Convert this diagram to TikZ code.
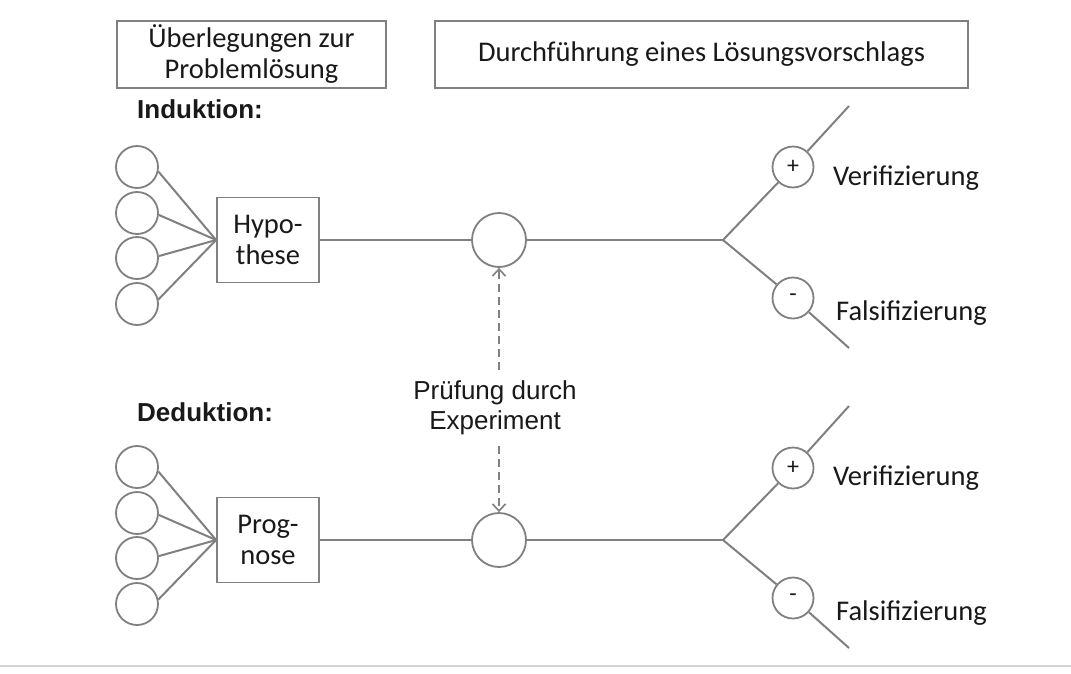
\documentclass[tikz,border=0pt]{standalone}
\usepackage{fontspec}
\setmainfont{Carlito}
\newfontfamily\arialf{Liberation Sans}
\usetikzlibrary{arrows.meta}
\definecolor{lgray}{RGB}{128,128,128}
\definecolor{rulegray}{RGB}{212,212,212}
\definecolor{txt}{RGB}{25,25,25}
\begin{document}
\begin{tikzpicture}[x=1pt,y=-1pt,
  box/.style={draw=lgray, line width=1.8pt, inner sep=0pt, align=center,
    font=\fontsize{28.5}{31}\selectfont, text=txt},
  circ/.style={circle, draw=lgray, line width=1.8pt, minimum size=42pt, inner sep=0pt},
  mcirc/.style={circle, draw=lgray, line width=1.8pt, minimum size=54pt, inner sep=0pt},
  scirc/.style={circle, draw=lgray, line width=1.8pt, minimum size=41pt, inner sep=0pt,
    font=\fontsize{24}{24}\selectfont, text=txt},
  mainline/.style={draw=lgray, line width=2.8pt},
  thinline/.style={draw=lgray, line width=2pt},
  head/.style={font=\arialf\bfseries\fontsize{26}{30}\selectfont, anchor=base west, inner sep=0pt, text=txt},
  res/.style={font=\fontsize{28.5}{30}\selectfont, anchor=base west, inner sep=0pt, text=txt},
  dasharr/.style={draw=lgray, line width=2pt, dash pattern=on 8pt off 5pt,
    -{Straight Barb[length=7pt,width=13pt,line width=1.6pt]}}
]
\useasboundingbox[fill=white] (0,0) rectangle (1071,673);

% header boxes
\node[box, minimum width=269pt, minimum height=67pt] (b1) at (251.5,54.5) {Überlegungen zur\\Problemlösung};
\node[box, minimum width=533pt, minimum height=67pt] (b2) at (701.5,54.5) {Durchführung eines Lösungsvorschlags};

% headings
\node[head] (ind) at (137,118) {Induktion:};
\node[head] (ded) at (137,421) {Deduktion:};

% ---------- Induktion ----------
\node[circ] (a1) at (137,167) {};
\node[circ] (a2) at (137,213) {};
\node[circ] (a3) at (137,258) {};
\node[circ] (a4) at (137,304) {};
\node[box, minimum width=102pt, minimum height=85pt] (hyp) at (268,240) {Hypo-\\these};
\draw[thinline] (a1.-12) -- (hyp.west);
\draw[thinline] (a2.-5) -- (hyp.west);
\draw[thinline] (a3.5) -- (hyp.west);
\draw[thinline] (a4.12) -- (hyp.west);
\node[mcirc] (m1) at (499,240) {};
\coordinate (br1) at (723,240);
\draw[mainline] (hyp.east) -- (m1);
\draw[mainline] (m1) -- (br1);
\node[scirc] (p1) at (793,167) {+};
\node[scirc] (n1) at (793,298) {-};
\coordinate (te1) at (849,106);
\coordinate (be1) at (849,348);
\draw[thinline] (br1) -- (p1);
\draw[thinline] (p1) -- (te1);
\draw[thinline] (br1) -- (n1);
\draw[thinline] (n1) -- (be1);
\node[res] (v1) at (833,185) {Verifizierung};
\node[res] (f1) at (836,320) {Falsifizierung};

% ---------- Deduktion ----------
\node[circ] (d1) at (137,467) {};
\node[circ] (d2) at (137,513) {};
\node[circ] (d3) at (137,558) {};
\node[circ] (d4) at (137,604) {};
\node[box, minimum width=102pt, minimum height=85pt] (prog) at (268,540) {Prog-\\nose};
\draw[thinline] (d1.-12) -- (prog.west);
\draw[thinline] (d2.-5) -- (prog.west);
\draw[thinline] (d3.5) -- (prog.west);
\draw[thinline] (d4.12) -- (prog.west);
\node[mcirc] (m2) at (499,540) {};
\coordinate (br2) at (723,540);
\draw[mainline] (prog.east) -- (m2);
\draw[mainline] (m2) -- (br2);
\node[scirc] (p2) at (793,468) {+};
\node[scirc] (n2) at (793,598) {-};
\coordinate (te2) at (849,406);
\coordinate (be2) at (849,648);
\draw[thinline] (br2) -- (p2);
\draw[thinline] (p2) -- (te2);
\draw[thinline] (br2) -- (n2);
\draw[thinline] (n2) -- (be2);
\node[res] (v2) at (833,485) {Verifizierung};
\node[res] (f2) at (836,620) {Falsifizierung};

% ---------- Prüfung ----------
\node[font=\arialf\fontsize{26}{30}\selectfont, align=center, text=txt,
  minimum height=76pt, inner sep=0pt] (pl) at (495,408) {Prüfung durch\\Experiment};
\draw[dasharr] (m1.south |- pl.north) -- (m1.south);
\draw[dasharr] (m2.north |- pl.south) -- (m2.north);

% bottom rule
\draw[rulegray, line width=1.5pt] (0,666) -- (1071,666);
\end{tikzpicture}
\end{document}
